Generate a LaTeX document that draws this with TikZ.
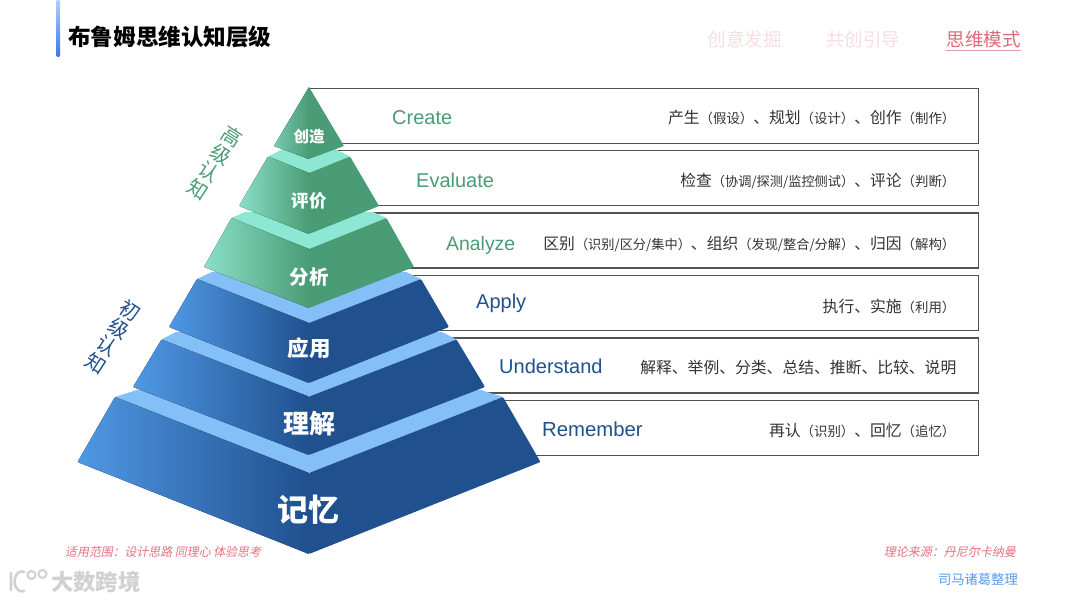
\documentclass[tikz,border=0pt]{standalone}
\usepackage{xcolor}
\usepackage{fontspec}
\setmainfont{Noto Sans CJK SC}
\newfontfamily\enfont{Liberation Sans}
\newfontfamily\slantfont[FakeSlant=0.2]{Noto Sans CJK SC}
\usetikzlibrary{positioning}
\definecolor{greenlight}{HTML}{8ADFC6}
\definecolor{greendark}{HTML}{4A9C76}
\definecolor{greenband}{HTML}{8CE8D2}
\definecolor{bluelight}{HTML}{4F98E4}
\definecolor{bluedark}{HTML}{20508E}
\definecolor{blueband}{HTML}{85BFF7}
\definecolor{rosetext}{HTML}{E8707F}
\definecolor{rosepale}{HTML}{F9DDE0}
\definecolor{barlight}{HTML}{B4CDFA}
\definecolor{bardark}{HTML}{3A76EE}
\definecolor{skytext}{HTML}{5A9BE8}
\newcommand{\fs}[1]{\fontsize{#1}{#1}\selectfont}
\newcommand{\sm}[1]{{\fs{13.4}#1}}
\newcommand{\smt}[1]{{\fs{13.2}#1}}
% halfwidth/y of band back, upper corner, face top, lower corner, bottom, and colours
\newcommand{\pyrtier}[9]{%
    \fill[#9band] ({309-#1},#2) -- ({309-#3},#4) -- (309,#5) -- ({309+#3},#4) -- ({309+#1},#2) -- cycle;
    \fill[rounded corners=1pt, left color=#9light, right color=#9dark] ({309-#3},#4) -- (309,#5) -- (309,#8) -- ({309-#6},#7) -- cycle;
    \fill[rounded corners=1pt, #9dark] ({309+#3},#4) -- (309,#5) -- (309,#8) -- ({309+#6},#7) -- cycle;
}
\begin{document}
\begin{tikzpicture}[
        x=1pt, y=-1pt,
        rowbox/.style={draw=black!68, line width=1.2pt, inner sep=0pt, minimum width=669.5pt, minimum height=55pt},
        engname/.style={font=\enfont\fs{20}, anchor=west, inner sep=0pt},
        desc/.style={font=\fs{15.8}, text=black!80, anchor=east, inner sep=0pt},
        lvl/.style={font=\bfseries, text=white, inner sep=0pt},
        nav/.style={font=\fs{18.5}, text=rosepale, inner sep=0pt},
        side/.style={font=\fontsize{20}{21}\selectfont, align=center, rotate=-33, inner sep=0pt},
        note/.style={font=\slantfont\fs{11.9}, text=rosetext, inner sep=0pt},
    ]
    \useasboundingbox (0,0) rectangle (1080,602);
    \fill[white] (0,0) rectangle (1080,602);

    % header
    \shade[rounded corners=1pt, top color=barlight, bottom color=bardark] (56.5,0) rectangle (60,57);
    \node[font=\bfseries\fs{22.6}, anchor=west, inner sep=0pt] (title) at (68,37) {布鲁姆思维认知层级};
    \node[nav] (nav1) at (744.5,39) {创意发掘};
    \node[nav] (nav2) at (863,39) {共创引导};
    \node[nav, text=rosetext!95!black] (nav3) at (983.5,39) {思维模式};
    \draw[rosetext!70, line width=0.8pt] (nav3.west |- 0,50.3) coordinate (navl) -- (nav3.east |- 0,50.3) coordinate (navr);

    % rows behind the pyramid
    \node[rowbox] (r1) at (643.7,115.8) {};
    \node[rowbox] (r2) at (643.7,178.2) {};
    \node[rowbox] (r3) at (643.7,240.5) {};
    \node[rowbox] (r4) at (643.7,303.2) {};
    \node[rowbox] (r5) at (643.7,365.5) {};
    \node[rowbox] (r6) at (643.7,428) {};

    % pyramid, bottom to top
    \pyrtier{172}{390}{194}{397}{473}{231.5}{462}{554}{blue}
    \pyrtier{133}{332}{147.5}{339.5}{396.7}{176}{387}{455}{blue}
    \pyrtier{97}{272}{112}{279}{323}{140}{327}{383}{blue}
    \pyrtier{64}{212}{77.5}{218}{249}{105}{267}{308}{green}
    \pyrtier{26}{149}{41}{156.5}{173}{70}{206}{234}{green}
    \fill[rounded corners=0.5pt, left color=greenlight!70!greendark, right color=greendark] (309,87) -- (309,159) -- (274,146) -- cycle;
    \fill[rounded corners=0.5pt, greendark] (309,87) -- (309,159) -- (344,146) -- cycle;

    \node[lvl, font=\bfseries\fs{15.5}] (l1) at (309,137) {创造};
    \node[lvl, font=\bfseries\fs{17.5}] (l2) at (309,201) {评价};
    \node[lvl, font=\bfseries\fs{19.5}] (l3) at (309,277) {分析};
    \node[lvl, font=\bfseries\fs{21.5}] (l4) at (309,348) {应用};
    \node[lvl, font=\bfseries\fs{26}] (l5) at (309,424) {理解};
    \node[lvl, font=\bfseries\fs{31}] (l6) at (308,510) {记忆};

    % english names
    \node[engname, text=greendark] (c1) at (392,118) {Create};
    \node[engname, text=greendark] (c2) at (416,180) {Evaluate};
    \node[engname, text=greendark, font=\enfont\fs{19.4}] (c3) at (446,245) {Analyze};
    \node[engname, text=bluedark] (c4) at (476,303.5) {Apply};
    \node[engname, text=bluedark] (c5) at (499,366) {Understand};
    \node[engname, text=bluedark, font=\enfont\fs{20.3}] (c6) at (542,429) {Remember};

    % verbs
    \node[desc] (d1) at (955.5,118) {产生\sm{（假设）}、规划\sm{（设计）}、创作\sm{（制作）}};
    \node[desc] (d2) at (955.5,181) {检查\smt{（协调/探测/监控侧试）}、评论\sm{（判断）}};
    \node[desc] (d3) at (955.5,244) {区别\smt{（识别/区分/集中）}、组织\smt{（发现/整合/分解）}、归因\sm{（解构）}};
    \node[desc] (d4) at (955.5,306) {执行、实施\sm{（利用）}};
    \node[desc] (d5) at (956.5,368) {解释、举例、分类、总结、推断、比较、说明};
    \node[desc] (d6) at (955.5,431) {再认\sm{（识别）}、回忆\sm{（追忆）}};

    \node[side, text=greendark] (s1) at (215,163) {高\\级\\认\\知};
    \node[side, text=bluedark] (s2) at (113,337) {初\\级\\认\\知};

    % footer
    \node[note, anchor=west] (n1) at (65,552) {适用范围：设计思路 同理心 体验思考};
    \node[note, anchor=east, font=\slantfont\fs{12}] (n2) at (1016,552) {理论来源：丹尼尔卡纳曼};
    \node[font=\fs{13.3}, text=skytext, anchor=east, inner sep=0pt] (n3) at (1018,579) {司马诸葛整理};
    \node[font=\bfseries\fs{22.4}, text=black!18, anchor=west, inner sep=0pt] (wm) at (51,582) {大数跨境};
    \draw[black!18, line width=2pt] (31.5,575) circle (4pt) (42.5,574) circle (4pt);
    \draw[black!18, line width=2.6pt, line cap=round] (11,573) -- (11,590) (24,572) arc (70:290:7pt and 10pt);
\end{tikzpicture}
\end{document}
